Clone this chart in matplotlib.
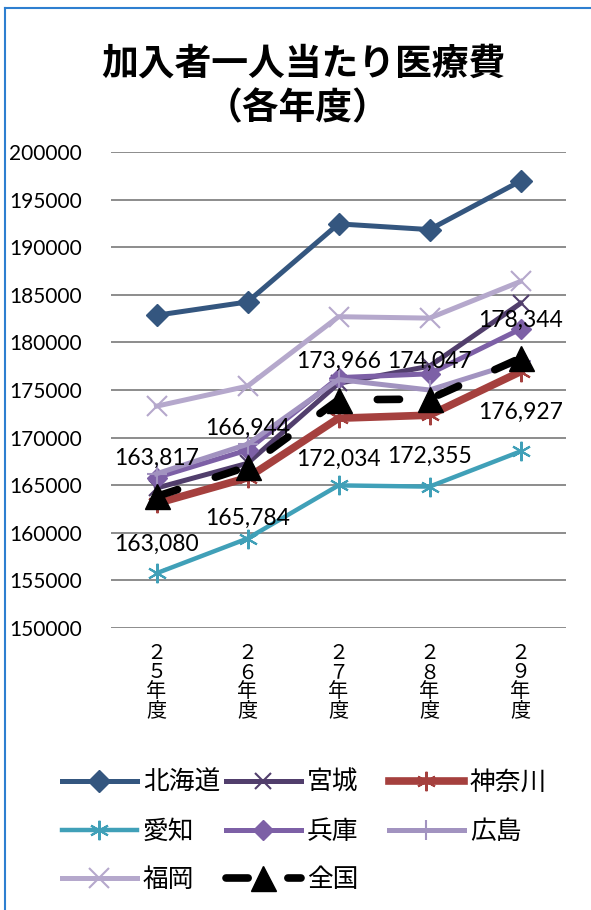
import matplotlib
matplotlib.use('Agg')
import matplotlib.pyplot as plt
from matplotlib.lines import Line2D
import numpy as np

plt.rcParams['font.family'] = ['Noto Sans CJK JP', 'DejaVu Sans']

# data
years = ['２\n５\n年\n度', '２\n６\n年\n度', '２\n７\n年\n度', '２\n８\n年\n度', '２\n９\n年\n度']
hokkaido = [182850, 184250, 192450, 191850, 196950]
miyagi = [164700, 167300, 175700, 177500, 184100]
kanagawa = [163080, 165784, 172034, 172355, 176927]
aichi = [155750, 159400, 164980, 164850, 168550]
hyogo = [165800, 168700, 176300, 176700, 181400]
hiroshima = [166200, 169300, 176100, 175000, 178000]
fukuoka = [173300, 175400, 182700, 182550, 186400]
zenkoku = [163817, 166944, 173966, 174047, 178344]
yticks = [150000, 155000, 160000, 165000, 170000, 175000, 180000, 185000, 190000, 195000, 200000]

fig = plt.figure(figsize=(5.91, 9.10), dpi=100)
ax = fig.add_axes([111/591, 1-628/910, 455/591, 476/910])

x = np.arange(len(years))
star = (6, 2, 0)

h1, = ax.plot(x, hokkaido, color='#34567F', lw=3.6, marker='D', ms=11, label='北海道')
h2, = ax.plot(x, miyagi, color='#513E6C', lw=3.6, marker='x', ms=12, mew=1.5, label='宮城')
h3, = ax.plot(x, kanagawa, color='#A5403E', lw=5.5, marker=star, ms=14, mew=1.5, label='神奈川')
h4, = ax.plot(x, aichi, color='#40A0B8', lw=3.2, marker=star, ms=14, mew=1.5, label='愛知')
h5, = ax.plot(x, hyogo, color='#7D60A6', lw=3.6, marker='D', ms=10, label='兵庫')
h6, = ax.plot(x, hiroshima, color='#A293C0', lw=3.6, marker='+', ms=14, mew=1.5, label='広島')
h7, = ax.plot(x, fukuoka, color='#B5A8CC', lw=3.6, marker='x', ms=14, mew=1.5, label='福岡')
h8, = ax.plot(x, zenkoku, color='black', lw=5.5, marker='^', ms=18, label='全国',
              dashes=(2.9, 5.2), dash_capstyle='round')

# data labels
for xi, v in zip(x, zenkoku):
    ax.annotate(f'{v:,}', (xi, v), xytext=(0, 27.5), textcoords='offset points',
                ha='center', va='center', fontsize=16.5, family=['Lato', 'DejaVu Sans'])
for xi, v in zip(x, kanagawa):
    ax.annotate(f'{v:,}', (xi, v), xytext=(0, -29.5), textcoords='offset points',
                ha='center', va='center', fontsize=16.5, family=['Lato', 'DejaVu Sans'])

ax.set_xlim(-0.5, len(years) - 0.5)
ax.set_ylim(150000, 200000)
ax.set_yticks(yticks)
ax.set_yticklabels([str(t) for t in yticks], family=['Lato', 'DejaVu Sans'], fontsize=15)
ax.set_xticks(x)
ax.set_xticklabels(years, fontsize=14.5, linespacing=0.88, va='top')
ax.tick_params(axis='y', length=0, pad=21)
ax.tick_params(axis='x', length=0, pad=11)
ax.grid(axis='y', color='#8C8C8C', lw=1.4)
ax.set_axisbelow(True)
for s in ax.spines.values():
    s.set_visible(False)

# title
fig.text(303/591, 1-64/910, '加入者一人当たり医療費', ha='center', va='center',
         fontsize=26.5, fontweight='bold')
fig.text(298/591, 1-109/910, '（各年度）', ha='center', va='center',
         fontsize=26.5, fontweight='bold')

# legend: one column at a time so the columns sit where the reference has them
cols = [([h1, h4, h7], 62), ([h2, h5, h8], 226), ([h3, h6], 389)]
for hs, left in cols:
    fig.legend(hs, [h.get_label() for h in hs], loc='upper left',
               bbox_to_anchor=(left/591, 1-770/910), ncol=1, frameon=False,
               fontsize=18.5, handlelength=2.9, handletextpad=0.25,
               labelspacing=0.88, borderpad=0, borderaxespad=0)

# blue frame
fig.add_artist(Line2D([5/591, 5/591], [0, 1-8/910], color='#2E7FD0', lw=1.5))
fig.add_artist(Line2D([5/591, 1], [1-8/910, 1-8/910], color='#2E7FD0', lw=1.5))

fig.savefig('out.png', dpi=100)
